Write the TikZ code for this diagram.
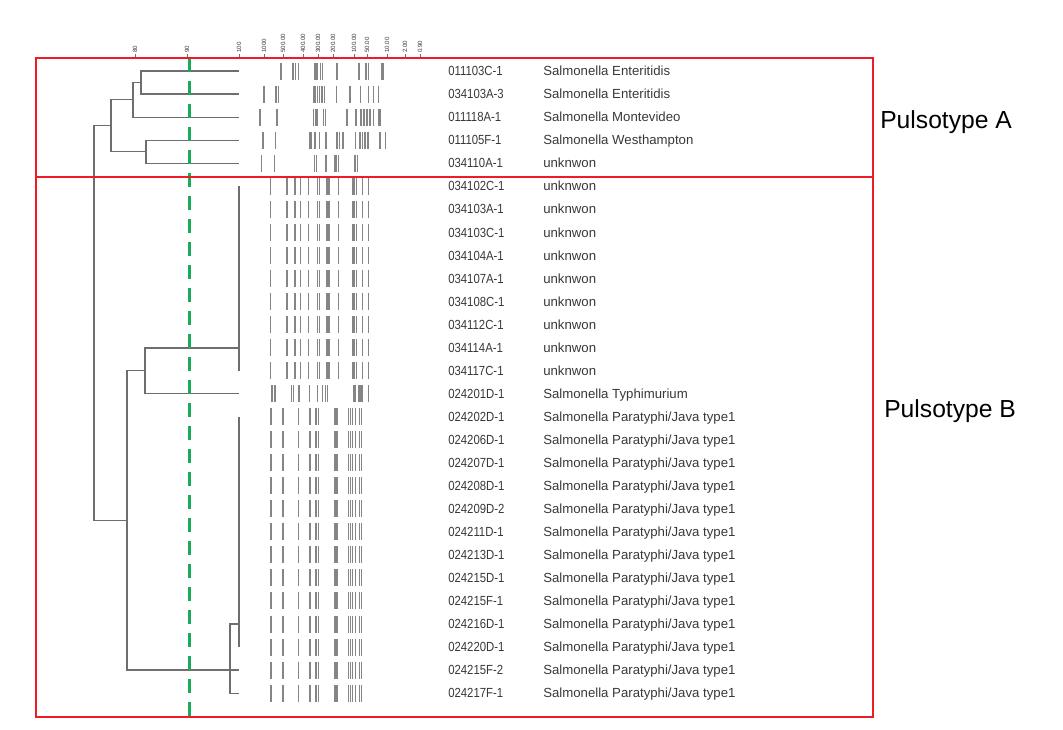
\documentclass[tikz,border=0pt]{standalone}
\usepackage{fontspec}
\setmainfont{Liberation Sans}
\usepackage{graphicx}
\definecolor{PGRed}{HTML}{EE1C25}
\definecolor{PGGreen}{HTML}{1BA95A}
\definecolor{PGTree}{HTML}{6E6E6E}
\definecolor{PGBand}{HTML}{858585}
\definecolor{PGText}{HTML}{383838}
\newcommand{\lane}[2]{\foreach \bx in {#2}{\draw[PGBand,line width=0.8pt] (\bx,#1-8.5) -- (\bx,#1+8.5);}}

\begin{document}
\begin{tikzpicture}[x=0.75pt,y=-0.75pt,
  tree/.style={PGTree,line width=0.8pt},
  idtxt/.style={anchor=base west,inner sep=0pt,text=PGText,font=\fontsize{9.9}{11}\selectfont},
  scaletxt/.style={anchor=west,rotate=90,inner sep=0pt,text=PGText,font=\fontsize{4.6}{5}\selectfont},
  typetxt/.style={anchor=base west,inner sep=0pt,font=\fontsize{18.5}{20}\selectfont}]
\path[use as bounding box] (0,0) rectangle (1063,729);

% scale
\draw[PGTree,line width=0.6pt] (95,57) -- (425,57);
\foreach \sx/\st in {135/80,187/90,239/100,264/1000,283/500.00,303/400.00,318/300.00,333/200.00,354/100.00,367/50.00,387/10.00,405/2.00,420/0.90}{
  \draw[PGTree,line width=0.5pt] (\sx,54) -- (\sx,57);
  \node[scaletxt] (s\st) at (\sx,53) {\st};
}

% leaves
\foreach \i/\ry in {0/71.0,1/94.0,2/117.1,3/140.1,4/163.2,5/186.2,6/209.2,7/232.3,8/255.3,9/278.4,10/301.4,11/324.4,12/347.5,13/370.5,14/393.6,15/416.6,16/439.6,17/462.7,18/485.7,19/508.8,20/531.8,21/554.8,22/577.9,23/600.9,24/624.0,25/647.0,26/670.0,27/693.1}
  \coordinate (l\i) at (239,\ry);

% dendrogram
\coordinate (n01) at (141,82.5);
\coordinate (n012) at (133,99.8);
\coordinate (n34) at (146,151.6);
\coordinate (nA) at (111,125.7);
\coordinate (c1) at (239,348);
\coordinate (nB1) at (145,370.8);
\coordinate (c2) at (239,624);
\coordinate (nB2) at (230,670);
\coordinate (nB) at (127,520.4);
\coordinate (nR) at (94,323);
\draw[tree] (l0) -| (n01) |- (l1);
\draw[tree] (n01) -| (n012) |- (l2);
\draw[tree] (l3) -| (n34) |- (l4);
\draw[tree] (n012) -| (nA) |- (n34);
\draw[tree] (l5) -- (l13);
\draw[tree] (c1) -| (nB1) |- (l14);
\draw[tree] (l15) -- (l25);
\draw[tree] (c2) -| (nB2) |- (l27);
\draw[tree] (nB1) -| (nB) |- (l26);
\draw[tree] (nA) -| (nR) |- (nB);

% gel lanes
\lane{71.0}{281,293,295.7,298.3,314.3,316,317.7,320.5,322.5,337,359,366,368.5,382,383.5}
\lane{94.0}{264,276,278.3,314,315.8,317.5,319.5,322,324.5,336.7,350,360.5,368.5,373.5,378.5}
\lane{117.1}{260,277,313.3,315.3,317,323.5,325.5,347,356,361,364,367,370,373.3,379,380.7}
\lane{140.1}{263,275.5,310,311.7,315,319.8,326,337,339.7,343,355.5,360,362.5,365,368,380,385.5}
\lane{163.2}{261.7,274.5,314.7,316.3,326,335,336.7,338.3,355,357.8}
\foreach \ry in {186.2,209.2,232.3,255.3,278.4,301.4,324.4,347.5,370.5}{
  \lane{\ry}{270.7,287,295,300.3,308.3,317.8,319.7,327,329,338.3,353,354.7,356.4,362.8,368.7}
}
\lane{393.6}{272,275,291.7,293.3,299,309.3,317.8,322.2,325.5,327.5,353.3,355,358.3,360,362,368.3}
\foreach \ry in {416.6,439.6,462.7,485.7,508.8,531.8,554.8,577.9,600.9,624.0,647.0,670.0,693.1}{
  \lane{\ry}{271,283,298.3,310,316,318.3,335,337,348.8,350.7,352.7,355.3,359.7,361.2}
}

% isolates
\node[idtxt] (id0) at (448,75.7) {\scalebox{0.86}[1]{011103C-1}};
\node[idtxt] (sp0) at (543,75.7) {Salmonella Enteritidis};
\node[idtxt] (id1) at (448,98.7) {\scalebox{0.86}[1]{034103A-3}};
\node[idtxt] (sp1) at (543,98.7) {Salmonella Enteritidis};
\node[idtxt] (id2) at (448,121.8) {\scalebox{0.86}[1]{011118A-1}};
\node[idtxt] (sp2) at (543,121.8) {Salmonella Montevideo};
\node[idtxt] (id3) at (448,144.8) {\scalebox{0.86}[1]{011105F-1}};
\node[idtxt] (sp3) at (543,144.8) {Salmonella Westhampton};
\node[idtxt] (id4) at (448,167.9) {\scalebox{0.86}[1]{034110A-1}};
\node[idtxt] (sp4) at (543,167.9) {unknwon};
\node[idtxt] (id5) at (448,190.9) {\scalebox{0.86}[1]{034102C-1}};
\node[idtxt] (sp5) at (543,190.9) {unknwon};
\node[idtxt] (id6) at (448,213.9) {\scalebox{0.86}[1]{034103A-1}};
\node[idtxt] (sp6) at (543,213.9) {unknwon};
\node[idtxt] (id7) at (448,237.0) {\scalebox{0.86}[1]{034103C-1}};
\node[idtxt] (sp7) at (543,237.0) {unknwon};
\node[idtxt] (id8) at (448,260.0) {\scalebox{0.86}[1]{034104A-1}};
\node[idtxt] (sp8) at (543,260.0) {unknwon};
\node[idtxt] (id9) at (448,283.1) {\scalebox{0.86}[1]{034107A-1}};
\node[idtxt] (sp9) at (543,283.1) {unknwon};
\node[idtxt] (id10) at (448,306.1) {\scalebox{0.86}[1]{034108C-1}};
\node[idtxt] (sp10) at (543,306.1) {unknwon};
\node[idtxt] (id11) at (448,329.1) {\scalebox{0.86}[1]{034112C-1}};
\node[idtxt] (sp11) at (543,329.1) {unknwon};
\node[idtxt] (id12) at (448,352.2) {\scalebox{0.86}[1]{034114A-1}};
\node[idtxt] (sp12) at (543,352.2) {unknwon};
\node[idtxt] (id13) at (448,375.2) {\scalebox{0.86}[1]{034117C-1}};
\node[idtxt] (sp13) at (543,375.2) {unknwon};
\node[idtxt] (id14) at (448,398.3) {\scalebox{0.86}[1]{024201D-1}};
\node[idtxt] (sp14) at (543,398.3) {Salmonella Typhimurium};
\node[idtxt] (id15) at (448,421.3) {\scalebox{0.86}[1]{024202D-1}};
\node[idtxt] (sp15) at (543,421.3) {Salmonella Paratyphi/Java type1};
\node[idtxt] (id16) at (448,444.3) {\scalebox{0.86}[1]{024206D-1}};
\node[idtxt] (sp16) at (543,444.3) {Salmonella Paratyphi/Java type1};
\node[idtxt] (id17) at (448,467.4) {\scalebox{0.86}[1]{024207D-1}};
\node[idtxt] (sp17) at (543,467.4) {Salmonella Paratyphi/Java type1};
\node[idtxt] (id18) at (448,490.4) {\scalebox{0.86}[1]{024208D-1}};
\node[idtxt] (sp18) at (543,490.4) {Salmonella Paratyphi/Java type1};
\node[idtxt] (id19) at (448,513.5) {\scalebox{0.86}[1]{024209D-2}};
\node[idtxt] (sp19) at (543,513.5) {Salmonella Paratyphi/Java type1};
\node[idtxt] (id20) at (448,536.5) {\scalebox{0.86}[1]{024211D-1}};
\node[idtxt] (sp20) at (543,536.5) {Salmonella Paratyphi/Java type1};
\node[idtxt] (id21) at (448,559.5) {\scalebox{0.86}[1]{024213D-1}};
\node[idtxt] (sp21) at (543,559.5) {Salmonella Paratyphi/Java type1};
\node[idtxt] (id22) at (448,582.6) {\scalebox{0.86}[1]{024215D-1}};
\node[idtxt] (sp22) at (543,582.6) {Salmonella Paratyphi/Java type1};
\node[idtxt] (id23) at (448,605.6) {\scalebox{0.86}[1]{024215F-1}};
\node[idtxt] (sp23) at (543,605.6) {Salmonella Paratyphi/Java type1};
\node[idtxt] (id24) at (448,628.7) {\scalebox{0.86}[1]{024216D-1}};
\node[idtxt] (sp24) at (543,628.7) {Salmonella Paratyphi/Java type1};
\node[idtxt] (id25) at (448,651.7) {\scalebox{0.86}[1]{024220D-1}};
\node[idtxt] (sp25) at (543,651.7) {Salmonella Paratyphi/Java type1};
\node[idtxt] (id26) at (448,674.7) {\scalebox{0.86}[1]{024215F-2}};
\node[idtxt] (sp26) at (543,674.7) {Salmonella Paratyphi/Java type1};
\node[idtxt] (id27) at (448,697.8) {\scalebox{0.86}[1]{024217F-1}};
\node[idtxt] (sp27) at (543,697.8) {Salmonella Paratyphi/Java type1};

% cut-off line and pulsotype boxes
\draw[PGGreen,line width=2.25pt,dash pattern=on 10.5pt off 6.75pt] (189,58) -- (189,717);
\draw[PGRed,line width=2.2pt] (36,58) rectangle (873,177);
\draw[PGRed,line width=2.2pt] (36,177) rectangle (873,717);
\node[typetxt] (pA) at (880,128.8) {Pulsotype A};
\node[typetxt] (pB) at (884,417.8) {Pulsotype B};
\end{tikzpicture}
\end{document}
